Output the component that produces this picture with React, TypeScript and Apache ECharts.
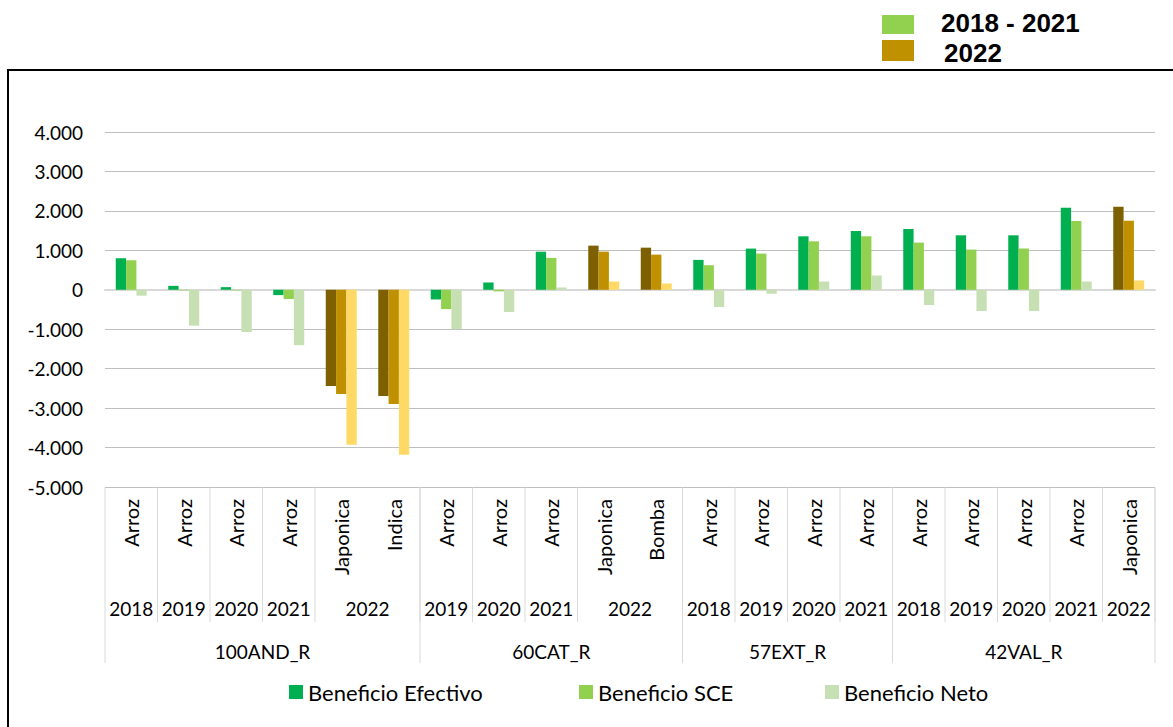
import React, { useEffect, useRef } from "react";
import * as echarts from "echarts";

const regions = ["100AND_R","100AND_R","100AND_R","100AND_R","100AND_R","100AND_R","60CAT_R","60CAT_R","60CAT_R","60CAT_R","60CAT_R","57EXT_R","57EXT_R","57EXT_R","57EXT_R","42VAL_R","42VAL_R","42VAL_R","42VAL_R","42VAL_R"];
const years = ["2018","2019","2020","2021","2022","2022","2019","2020","2021","2022","2022","2018","2019","2020","2021","2018","2019","2020","2021","2022"];
const crops = ["Arroz","Arroz","Arroz","Arroz","Japonica","Indica","Arroz","Arroz","Arroz","Japonica","Bomba","Arroz","Arroz","Arroz","Arroz","Arroz","Arroz","Arroz","Arroz","Japonica"];

const efectivo = [800, 100, 67, -135, -2440, -2690, -245, 185, 965, 1119, 1068, 758, 1044, 1356, 1490, 1541, 1381, 1381, 2080, 2105];
const sce = [750, -15, -15, -235, -2640, -2895, -490, -40, 808, 967, 891, 623, 918, 1229, 1356, 1196, 1019, 1044, 1743, 1751];
const neto = [-150, -910, -1070, -1405, -3930, -4180, -1000, -565, 58, 210, 159, -438, -100, 210, 362, -387, -539, -539, 210, 236];

const seriesNames = ["Beneficio Efectivo", "Beneficio SCE", "Beneficio Neto"];
const colorsOld = ["#00B050", "#92D050", "#C6E0B4"];
const colorsNew = ["#7F6000", "#BF9000", "#FFD966"];
const topLegendLabels = ["2018 - 2021", "2022"];
const topLegendColors = ["#92D050", "#BF9000"];
const newYear = "2022";

const fmt = (v: number) => {
  const s = Math.abs(v).toString().replace(/\B(?=(\d{3})+(?!\d))/g, ".");
  return (v < 0 ? "-" : "") + s;
};

const FONT = "Lato";

export default function App() {
  const ref = useRef<HTMLDivElement>(null);
  useEffect(() => {
    if (!ref.current) return;
    const chart = echarts.init(ref.current, undefined, { renderer: "svg" });
    const allData = [efectivo, sce, neto];
    const series = allData.map((arr, si) => ({
      name: seriesNames[si],
      type: "bar",
      barGap: "0%",
      barCategoryGap: "41%",
      itemStyle: { color: colorsOld[si] },
      data: arr.map((v, i) => ({
        value: v,
        itemStyle: { color: years[i] === newYear ? colorsNew[si] : colorsOld[si] },
      })),
    }));
    const legendLefts = [284, 574, 820];
    const option: any = {
      animation: false,
      grid: { left: 105, right: 18, top: 132, bottom: 240, containLabel: false },
      xAxis: {
        type: "category",
        data: crops,
        axisLine: { show: true, onZero: true, lineStyle: { color: "#D9D9D9", width: 2 } },
        axisTick: { show: false },
        axisLabel: {
          interval: 0,
          rotate: 90,
          margin: 12,
          fontSize: 20,
          fontFamily: FONT,
          color: "#000",
        },
      },
      yAxis: {
        type: "value",
        min: -5000,
        max: 4000,
        interval: 1000,
        axisLine: { show: false },
        axisTick: { show: false },
        splitLine: { lineStyle: { color: "#BFBFBF", width: 1 } },
        axisLabel: {
          formatter: (v: number) => fmt(v),
          fontSize: 19,
          fontFamily: FONT,
          color: "#000",
          margin: 22,
        },
      },
      legend: legendLefts.map((l, i) => ({
        data: [seriesNames[i]],
        left: l,
        top: 676,
        icon: "rect",
        itemWidth: 14,
        itemHeight: 14,
        textStyle: { fontSize: 22, fontFamily: FONT, color: "#000" },
      })),
      series,
    };
    chart.setOption(option);

    const cx = (i: number) => chart.convertToPixel({ xAxisIndex: 0 }, i) as number;
    const w = cx(1) - cx(0);
    const left = (i: number) => cx(i) - w / 2;
    const right = (i: number) => cx(i) + w / 2;
    const yTop = 487.5;
    const g: any[] = [];
    g.push({
      type: "rect",
      shape: { x: 8, y: 70, width: 1200, height: 700 },
      style: { fill: "none", stroke: "#000", lineWidth: 2 },
      silent: true,
      z: -1,
    });
    let s = 0;
    for (let i = 1; i <= years.length; i++) {
      if (i === years.length || years[i] !== years[s] || regions[i] !== regions[s]) {
        const x0 = left(s), x1 = right(i - 1);
        g.push({
          type: "text",
          x: (x0 + x1) / 2,
          y: 608,
          style: { text: years[s], fontSize: 19, fontFamily: FONT, fill: "#000", align: "center", verticalAlign: "middle" },
        });
        g.push({
          type: "line",
          shape: { x1: x1, y1: yTop, x2: x1, y2: 622 },
          style: { stroke: "#D9D9D9", lineWidth: 1 },
        });
        s = i;
      }
    }
    s = 0;
    g.push({
      type: "line",
      shape: { x1: left(0), y1: yTop, x2: left(0), y2: 663 },
      style: { stroke: "#D9D9D9", lineWidth: 1 },
    });
    for (let i = 1; i <= regions.length; i++) {
      if (i === regions.length || regions[i] !== regions[s]) {
        const x0 = left(s), x1 = right(i - 1);
        g.push({
          type: "text",
          x: (x0 + x1) / 2,
          y: 651,
          style: { text: regions[s], fontSize: 19, fontFamily: FONT, fill: "#000", align: "center", verticalAlign: "middle" },
        });
        g.push({
          type: "line",
          shape: { x1: x1, y1: yTop, x2: x1, y2: 663 },
          style: { stroke: "#D9D9D9", lineWidth: 1 },
        });
        s = i;
      }
    }
    const tops = [15, 40];
    const heights = [19, 21];
    const textYs = [23, 53];
    topLegendLabels.forEach((t, i) => {
      g.push({
        type: "rect",
        shape: { x: 882, y: tops[i], width: 32, height: heights[i] },
        style: { fill: topLegendColors[i] },
      });
      g.push({
        type: "text",
        x: i === 0 ? 941 : 944,
        y: textYs[i],
        style: {
          text: t,
          fontSize: 26,
          fontWeight: "bold",
          fontFamily: "Liberation Sans",
          fill: "#000",
          align: "left",
          verticalAlign: "middle",
        },
      });
    });
    chart.setOption({ graphic: g });
    return () => chart.dispose();
  }, []);
  return (
    <div
      ref={ref}
      style={{ position: "fixed", left: 0, top: 0, width: 1173, height: 727, background: "#fff" }}
    />
  );
}
